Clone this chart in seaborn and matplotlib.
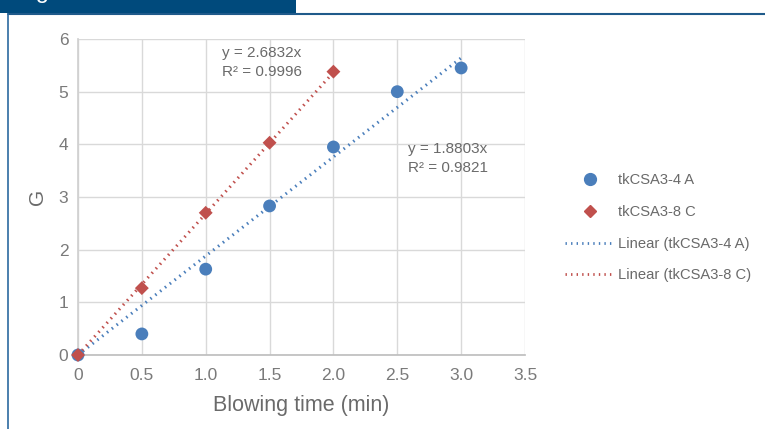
import numpy as np
import pandas as pd
import seaborn as sns
import matplotlib.pyplot as plt
from matplotlib.lines import Line2D

# data
time_a = [0, 0.5, 1.0, 1.5, 2.0, 2.5, 3.0]
g_a = [0, 0.40, 1.63, 2.83, 3.95, 5.00, 5.45]
time_c = [0, 0.5, 1.0, 1.5, 2.0]
g_c = [0, 1.27, 2.70, 4.03, 5.38]
slope_a = 1.8803
slope_c = 2.6832
r2_a = 0.9821
r2_c = 0.9996
name_a = 'tkCSA3-4 A'
name_c = 'tkCSA3-8 C'

blue = '#4a7ebb'
red = '#c0504d'
grey = '#6a6a6a'

sns.set_theme(style='white')
plt.rcParams['font.family'] = ['Liberation Sans', 'DejaVu Sans']

fig = plt.figure(figsize=(7.65, 4.29), dpi=100)
ax = fig.add_axes([78 / 765, 1 - 355 / 429, (525 - 78) / 765, (355 - 39) / 429])

df_a = pd.DataFrame({'t': time_a, 'g': g_a})
df_c = pd.DataFrame({'t': time_c, 'g': g_c})
fit_a = pd.DataFrame({'t': [0, max(time_a)]})
fit_a['g'] = fit_a['t'] * slope_a
fit_c = pd.DataFrame({'t': [0, max(time_c)]})
fit_c['g'] = fit_c['t'] * slope_c

sns.lineplot(data=fit_a, x='t', y='g', color=blue, lw=2.2, ax=ax, zorder=2)
sns.lineplot(data=fit_c, x='t', y='g', color=red, lw=2.2, ax=ax, zorder=2)
for ln in ax.lines:
    ln.set_dashes([0.5, 1.5])
sns.scatterplot(data=df_a, x='t', y='g', color=blue, marker='o', s=85,
                edgecolor='none', ax=ax, zorder=3, clip_on=False)
sns.scatterplot(data=df_c, x='t', y='g', color=red, marker='D', s=50,
                edgecolor='none', ax=ax, zorder=4, clip_on=False)

ax.set_xlim(0, 3.5)
ax.set_ylim(0, 6)
ax.set_xticks(np.arange(0, 3.51, 0.5))
ax.set_xticklabels(['0'] + [f'{v:.1f}' for v in np.arange(0.5, 3.51, 0.5)])
ax.set_yticks(range(0, 7))
ax.grid(True, color='#d9d9d9', lw=1)
ax.set_axisbelow(True)
for s in ax.spines.values():
    s.set_visible(False)
ax.spines['left'].set_visible(True)
ax.spines['bottom'].set_visible(True)
ax.spines['left'].set_color('#d0d0d0')
ax.spines['bottom'].set_color('#bfbfbf')
ax.tick_params(axis='both', colors='#7a7a7a', labelsize=12.5, length=0)
ax.tick_params(axis='x', pad=9)
ax.tick_params(axis='y', pad=7)
ax.set_xlabel('Blowing time (min)', fontsize=15.5, color=grey, labelpad=9)
ax.set_ylabel('G', fontsize=15, color=grey, labelpad=8)

ax.text(1.13, 5.86, f'y = {slope_c}x\nR² = {r2_c}', fontsize=11, color=grey,
        va='top', linespacing=1.45, zorder=1)
ax.text(2.58, 4.05, f'y = {slope_a}x\nR² = {r2_a}', fontsize=11, color=grey,
        va='top', linespacing=1.45, zorder=1)

handles = [
    Line2D([], [], ls='none', marker='o', ms=8.5, color=blue),
    Line2D([], [], ls='none', marker='D', ms=6, color=red),
    Line2D([], [], color=blue, lw=2, dashes=[0.5, 1.5]),
    Line2D([], [], color=red, lw=2, dashes=[0.5, 1.5]),
]
labels = [name_a, name_c, f'Linear ({name_a})', f'Linear ({name_c})']
fig.legend(handles, labels, loc='center left', bbox_to_anchor=(552 / 765, 1 - 228 / 429),
           frameon=False, fontsize=10.6, labelcolor=grey, handlelength=3.3,
           handletextpad=0.3, labelspacing=1.2)

# header strip and frame lines
fig.add_artist(plt.Rectangle((0, 1 - 13 / 429), 296 / 765, 13 / 429,
                             transform=fig.transFigure, color='#004a7c', lw=0))
fig.add_artist(Line2D([8 / 765, 1], [1 - 13.5 / 429] * 2, transform=fig.transFigure,
                      color='#1f5a8a', lw=1.5))
fig.add_artist(Line2D([8 / 765] * 2, [0, 1 - 13.5 / 429], transform=fig.transFigure,
                      color='#2c6aa0', lw=1.2))
fig.text(16 / 765, 1 + 2 / 429, 'Fig', color='white', fontsize=17, va='baseline')

fig.savefig('out.png', dpi=100)
